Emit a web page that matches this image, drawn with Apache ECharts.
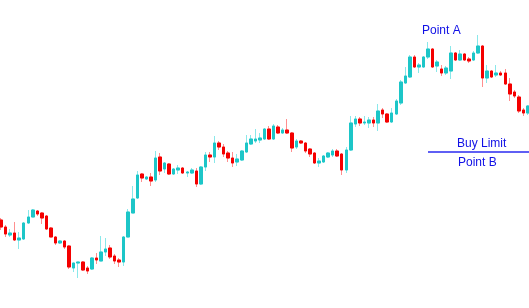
<!DOCTYPE html>
<html><head><meta charset="utf-8">
<script src="https://cdn.jsdelivr.net/npm/echarts@6/dist/echarts.min.js"></script>
<style>html,body{margin:0;padding:0;background:#fff}#c{width:529px;height:308px}</style>
</head><body><div id="c"></div>
<script>
var openV  = [88,81,73,75,68,69,85,91,97,95,92,80,71,65,67,62,40,45,46,40,39,50,47,56,60,52,48,46,71,95,110,134,129,131,128,151,139,144,134,138,140,135,135,137,124,141,153,151,165,161,155,150,146,148,156,164,167,168,169,179,169,181,175,178,175,161,167,165,159,155,145,146,151,153,157,154,138,158,184,189,185,185,188,185,198,194,186,194,205,225,231,251,241,241,251,259,242,239,235,237,255,248,254,249,248,255,262,230,237,233,235,235,224,216,211,198,195];
var closeV = [81,74,75,68,70,85,91,98,94,90,79,71,65,67,61,41,45,46,38,37,50,48,56,59,51,47,46,71,96,109,133,130,131,127,150,137,145,134,139,140,135,136,138,124,141,153,151,165,161,154,150,145,149,157,165,169,169,170,179,169,182,175,178,175,160,167,165,157,154,145,147,152,155,157,152,138,158,185,189,185,186,188,185,197,194,186,195,207,226,232,251,241,243,251,259,241,246,235,240,255,248,254,248,247,255,262,230,237,231,235,233,224,214,212,197,195,202];
var lowV   = [78,71,71,67,59,68,84,91,92,84,78,71,63,64,59,39,36,30,37,34,38,44,47,52,49,44,41,42,71,95,109,126,128,122,126,133,135,133,133,134,134,131,134,121,123,137,146,145,158,151,146,141,142,147,155,163,165,165,168,168,168,174,174,174,156,159,164,155,151,144,141,145,150,151,151,133,135,157,181,182,183,180,181,177,190,185,185,193,203,224,230,240,235,240,249,240,236,232,233,229,247,247,247,245,247,254,221,225,230,231,232,223,207,210,195,192,193];
var highV  = [90,83,79,86,76,86,98,99,98,96,93,81,72,68,68,63,45,46,47,42,51,55,72,70,63,54,50,72,99,122,137,135,132,135,157,155,146,145,140,143,141,137,140,140,142,156,156,172,167,164,157,156,154,158,173,173,179,175,180,182,184,183,180,189,176,169,168,166,160,156,150,153,156,159,159,155,161,192,192,191,192,191,191,204,200,195,200,209,228,241,253,253,245,252,266,260,248,243,242,262,256,258,255,251,257,273,263,243,238,243,237,239,230,218,213,200,203];
var categories = openV.map(function(_, i){ return 'D' + (i + 1); });
var labelA = 'Point A', labelLimit = 'Buy Limit', labelB = 'Point B';

var full = openV.map(function(o, i){ return [o, closeV[i], lowV[i], highV[i]]; });
var bodies = openV.map(function(o, i){ var c = closeV[i]; return [o, c, Math.min(o, c), Math.max(o, c)]; });

var chart = echarts.init(document.getElementById('c'), null, {renderer: 'canvas'});
chart.setOption({
  animation: false,
  backgroundColor: '#ffffff',
  grid: {left: 1, right: 1, top: 0, bottom: 0},
  xAxis: {type: 'category', data: categories, boundaryGap: false, show: false},
  yAxis: {type: 'value', min: 0, max: 308, show: false},
  series: [
    {type: 'candlestick', data: full, barWidth: 3, clip: false,
     itemStyle: {color: '#8ae8ea', color0: '#ff8f8f', borderColor: '#8ae8ea', borderColor0: '#ff8f8f', borderWidth: 1}},
    {type: 'candlestick', data: bodies, barWidth: 3, clip: false,
     itemStyle: {color: '#1dc6c8', color0: '#f40000', borderColor: '#1dc6c8', borderColor0: '#f40000', borderWidth: 1}}
  ],
  graphic: [
    {type: 'text', left: 422, top: 25, style: {text: labelA, font: '12px "Liberation Sans", Arial, sans-serif', fill: '#1010e6'}},
    {type: 'text', left: 457, top: 138, style: {text: labelLimit, font: '12px "Liberation Sans", Arial, sans-serif', fill: '#1010e6'}},
    {type: 'line', shape: {x1: 428, y1: 152, x2: 529, y2: 152}, style: {stroke: '#2a2af0', lineWidth: 1.6}},
    {type: 'text', left: 458, top: 157, style: {text: labelB, font: '12px "Liberation Sans", Arial, sans-serif', fill: '#1010e6'}}
  ]
});
</script></body></html>
